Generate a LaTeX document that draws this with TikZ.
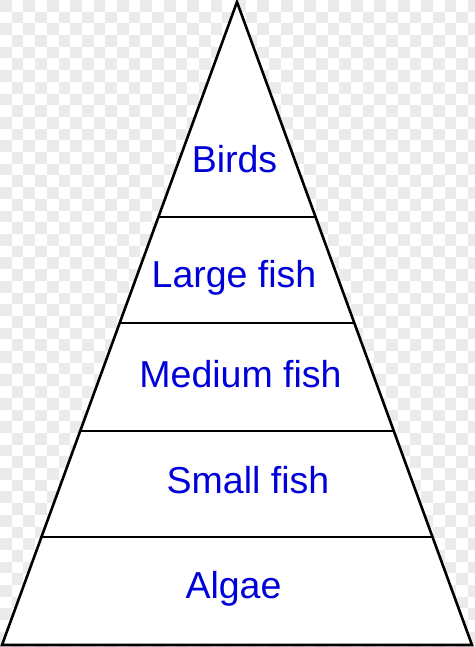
\documentclass[tikz,border=0pt]{standalone}
\usepackage{fontspec}
\setmainfont{Liberation Sans}
\definecolor{labelblue}{HTML}{0000D8}
\definecolor{checker}{HTML}{EBEBEB}
\begin{document}
\begin{tikzpicture}[x=1pt,y=-1pt,
  edge/.style={black,line width=2.6pt,line join=miter},
  divider/.style={black,line width=2.6pt},
  level/.style={anchor=base,text=labelblue,font=\fontsize{37.5}{37.5}\selectfont,inner sep=0pt}]
\useasboundingbox (0,0) rectangle (474,647);
\fill[white] (0,0) rectangle (474,647);
\foreach \i in {0,...,40} {
  \foreach \j in {0,...,55} {
    \pgfmathtruncatemacro{\myparity}{mod(\i+\j,2)}
    \ifnum\myparity=0
      \fill[checker] (\i*11.7,\j*11.7) rectangle ++(11.7,11.7);
    \fi
  }
}
\coordinate (apex) at (237,2);
\coordinate (bl) at (2,645);
\coordinate (br) at (472,645);
\fill[white] (apex) -- (bl) -- (br) -- cycle;
\draw[edge] (apex) -- (bl) -- (br) -- cycle;
\coordinate (l1) at (158,217); \coordinate (r1) at (317,217);
\coordinate (l2) at (119,323); \coordinate (r2) at (354,323);
\coordinate (l3) at (80,431);  \coordinate (r3) at (394,431);
\coordinate (l4) at (40,537);  \coordinate (r4) at (432,537);
\draw[divider] (l1) -- (r1);
\draw[divider] (l2) -- (r2);
\draw[divider] (l3) -- (r3);
\draw[divider] (l4) -- (r4);
\node[level] (birds) at (234.5,172) {Birds};
\node[level] (large) at (234,287) {Large fish};
\node[level] (medium) at (240.5,387) {Medium fish};
\node[level] (small) at (248,493) {Small fish};
\node[level] (algae) at (233.5,598) {Algae};
\end{tikzpicture}
\end{document}
